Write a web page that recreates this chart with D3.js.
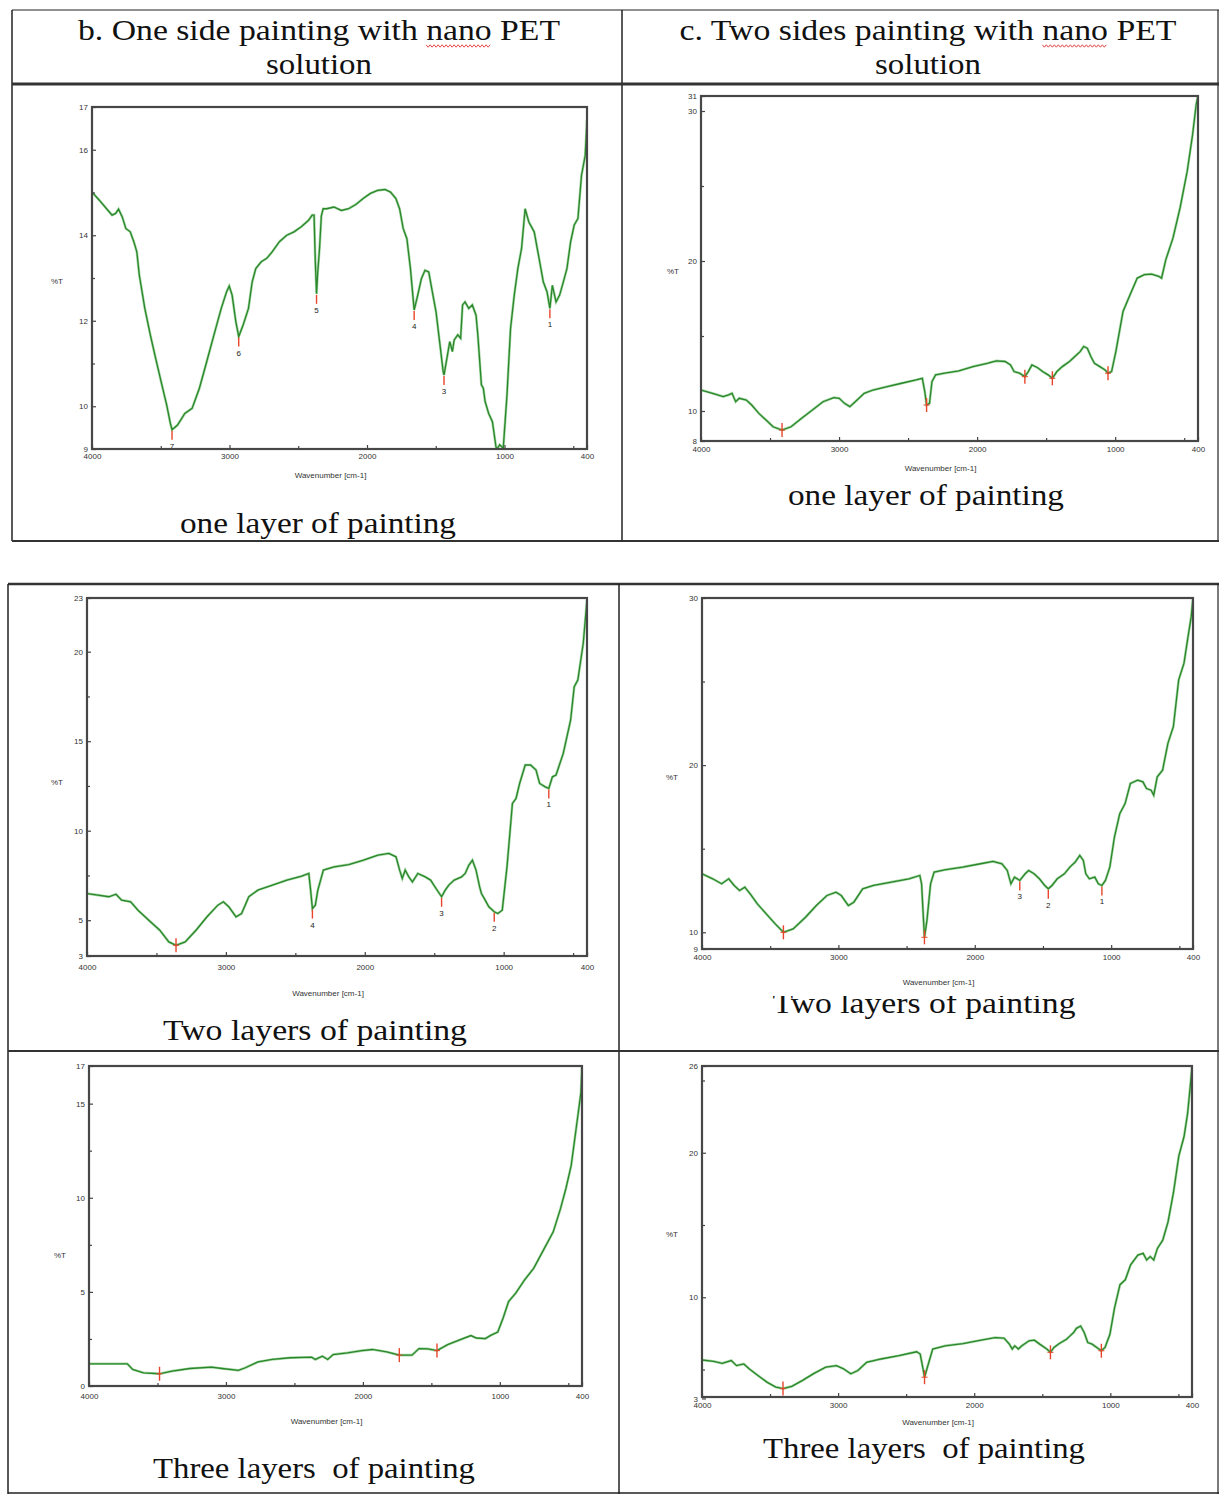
<!DOCTYPE html>
<html><head><meta charset="utf-8">
<script src="https://cdn.jsdelivr.net/npm/d3@7"></script>
<style>body{margin:0;background:#fff} svg{display:block}</style>
</head><body>
<svg id="fig" width="1219" height="1495"></svg>
<script>
// ---------------- DATA ----------------
const xMajorTicks = [4000, 3000, 2000, 1000, 400];
const xMinorTicks = [3500, 2500, 1500, 500];
const xTickLabels = ["4000", "3000", "2000", "1000", "400"];
const xAxisTitle = "Wavenumber [cm-1]";
const yAxisTitle = "%T";

const headerB = ["b. One side painting with nano PET", "solution"];
const headerC = ["c. Two sides painting with nano PET", "solution"];
const captions = ["one layer of painting", "one layer of painting",
                  "Two layers of painting", "Two layers of painting",
                  "Three layers  of painting", "Three layers  of painting"];

// b: one side, one layer
const b1Data = [[4000,15.01],[3947,14.82],[3894,14.62],[3854,14.47],[3828,14.51],[3807,14.61],[3780,14.43],[3754,14.16],[3722,14.08],[3696,13.85],[3674,13.61],[3656,13.07],[3616,12.29],[3576,11.67],[3537,11.12],[3497,10.57],[3457,10.03],[3430,9.6],[3418,9.45],[3378,9.56],[3325,9.83],[3272,9.95],[3219,10.42],[3166,11.04],[3113,11.67],[3060,12.29],[3021,12.68],[3002,12.81],[2981,12.60],[2954,11.98],[2933,11.63],[2901,11.90],[2862,12.29],[2835,12.91],[2809,13.22],[2769,13.38],[2729,13.46],[2690,13.61],[2637,13.85],[2584,14.00],[2531,14.08],[2478,14.20],[2425,14.35],[2399,14.47],[2385,14.47],[2376,13.4],[2367,12.63],[2359,13.1],[2345,13.7],[2332,14.45],[2319,14.62],[2293,14.62],[2240,14.66],[2187,14.58],[2134,14.62],[2081,14.72],[2028,14.86],[1975,14.98],[1922,15.05],[1869,15.07],[1829,15.01],[1790,14.86],[1763,14.62],[1737,14.16],[1710,13.92],[1684,13.22],[1657,12.25],[1631,12.60],[1604,12.99],[1578,13.18],[1551,13.14],[1525,12.68],[1498,12.21],[1472,11.51],[1446,10.81],[1440,10.73],[1419,11.12],[1398,11.51],[1379,11.28],[1366,11.55],[1340,11.67],[1319,11.59],[1305,12.37],[1287,12.44],[1260,12.29],[1234,12.37],[1207,12.13],[1194,11.67],[1168,10.50],[1154,10.42],[1141,10.11],[1115,9.83],[1088,9.64],[1062,9.05],[1054,9.0],[1035,9.10],[1009,9.02],[982,10.26],[956,11.82],[929,12.60],[903,13.22],[876,13.69],[850,14.62],[823,14.31],[784,14.08],[744,13.38],[718,12.91],[691,12.68],[670,12.29],[652,12.83],[625,12.44],[599,12.60],[572,12.91],[546,13.22],[519,13.85],[493,14.24],[466,14.39],[440,15.40],[413,15.87],[400,16.7]];
const b1Peaks = [[3418,"7"],[2933,"6"],[2367,"5"],[1657,"4"],[1440,"3"],[1054,"2"],[670,"1"]];
const b1YDomain = [9, 17];
const b1YTicks = [17, 16, 14, 12, 10, 9];
const b1YMinor = [15, 13, 11];

// c: two sides, one layer
const c1Data = [[4000,11.40],[3917,11.18],[3840,10.96],[3801,11.07],[3775,11.18],[3749,10.62],[3723,10.85],[3672,10.73],[3633,10.40],[3581,9.84],[3529,9.40],[3478,8.95],[3413,8.73],[3348,8.95],[3271,9.51],[3193,10.07],[3116,10.62],[3038,10.89],[2999,10.85],[2960,10.51],[2922,10.29],[2883,10.62],[2818,11.18],[2754,11.40],[2650,11.63],[2547,11.85],[2443,12.07],[2397,12.18],[2379,11.29],[2366,10.40],[2345,10.51],[2327,11.96],[2301,12.41],[2236,12.52],[2133,12.67],[2029,12.96],[1926,13.18],[1861,13.34],[1797,13.30],[1758,13.07],[1732,12.63],[1693,12.52],[1654,12.29],[1629,12.63],[1603,13.07],[1564,12.90],[1525,12.63],[1486,12.41],[1455,12.18],[1422,12.63],[1383,12.96],[1331,13.30],[1292,13.63],[1254,13.96],[1228,14.30],[1202,14.19],[1176,13.63],[1150,13.18],[1111,12.96],[1073,12.74],[1052,12.52],[1026,12.63],[995,13.96],[943,16.64],[892,17.75],[840,18.86],[788,19.09],[737,19.13],[685,18.98],[664,18.86],[633,20.09],[581,21.54],[530,23.54],[478,25.99],[439,28.44],[413,30.45],[400,31.0]];
const c1Peaks = [[3413,""],[2366,""],[1654,""],[1455,""],[1052,""]];
const c1YDomain = [8, 31];
const c1YTicks = [31, 30, 20, 10, 8];
const c1YMinor = [25, 15];

// b: one side, two layers
const b2Data = [[4000,6.49],[3921,6.40],[3843,6.31],[3791,6.45],[3751,6.12],[3686,6.03],[3633,5.56],[3555,5.0],[3476,4.44],[3411,3.79],[3359,3.60],[3293,3.79],[3215,4.44],[3136,5.19],[3058,5.84],[3018,6.03],[2979,5.75],[2927,5.19],[2887,5.37],[2835,6.31],[2770,6.68],[2665,6.96],[2560,7.24],[2455,7.46],[2403,7.61],[2390,6.68],[2377,5.65],[2356,5.84],[2338,6.68],[2298,7.80],[2220,7.98],[2115,8.11],[2010,8.35],[1906,8.63],[1827,8.73],[1775,8.54],[1749,7.80],[1730,7.33],[1709,7.80],[1683,7.42],[1657,7.14],[1618,7.61],[1565,7.42],[1526,7.24],[1487,6.77],[1447,6.31],[1421,6.68],[1395,6.96],[1356,7.24],[1303,7.42],[1277,7.61],[1251,8.07],[1225,8.35],[1199,7.80],[1173,6.86],[1160,6.49],[1133,6.12],[1107,5.75],[1068,5.47],[1042,5.37],[1010,5.56],[976,7.98],[937,11.52],[911,11.80],[885,12.64],[845,13.67],[806,13.67],[767,13.39],[741,12.64],[701,12.45],[675,12.36],[649,13.01],[623,13.11],[571,14.32],[518,16.18],[492,18.04],[466,18.42],[427,20.47],[400,22.9]];
const b2Peaks = [[3359,""],[2377,"4"],[1447,"3"],[1068,"2"],[675,"1"]];
const b2YDomain = [3, 23];
const b2YTicks = [23, 20, 15, 10, 5, 3];
const b2YMinor = [17.5, 12.5, 7.5];

// c: two sides, two layers
const c2Data = [[4000,13.5],[3921,13.2],[3856,12.9],[3804,13.2],[3764,12.8],[3725,12.5],[3686,12.7],[3647,12.3],[3594,11.7],[3529,11.1],[3463,10.5],[3403,10.0],[3332,10.2],[3241,10.9],[3162,11.6],[3084,12.2],[3018,12.4],[2979,12.2],[2927,11.6],[2887,11.8],[2822,12.6],[2743,12.8],[2612,13.0],[2482,13.2],[2403,13.4],[2390,12.9],[2377,10.9],[2369,9.7],[2351,10.7],[2324,12.9],[2298,13.6],[2220,13.74],[2089,13.9],[1958,14.1],[1866,14.24],[1801,14.1],[1762,13.7],[1735,12.9],[1709,13.3],[1670,13.1],[1631,13.5],[1605,13.7],[1565,13.5],[1526,13.2],[1487,12.8],[1461,12.6],[1434,12.8],[1395,13.2],[1343,13.5],[1303,13.9],[1264,14.2],[1230,14.6],[1204,14.3],[1186,13.5],[1160,13.2],[1120,13.3],[1094,12.9],[1068,12.8],[1042,13.1],[1010,13.9],[976,15.7],[937,17.1],[898,17.7],[859,18.9],[806,19.1],[767,19.0],[741,18.6],[707,18.5],[688,18.2],[662,19.3],[623,19.7],[584,21.3],[544,22.3],[505,25.1],[466,26.1],[440,27.5],[413,28.9],[400,30.0]];
const c2Peaks = [[3403,""],[2369,""],[1670,"3"],[1461,"2"],[1068,"1"]];
const c2YDomain = [9, 30];
const c2YTicks = [30, 20, 10, 9];
const c2YMinor = [25, 15];

// b: one side, three layers
const b3Data = [[4000,1.18],[3838,1.18],[3720,1.18],[3681,0.88],[3603,0.70],[3485,0.65],[3394,0.79],[3263,0.93],[3106,1.00],[3028,0.93],[2910,0.83],[2858,0.97],[2766,1.28],[2662,1.41],[2531,1.50],[2374,1.53],[2348,1.41],[2296,1.58],[2257,1.41],[2217,1.67],[2113,1.76],[2008,1.88],[1930,1.94],[1825,1.81],[1734,1.64],[1642,1.64],[1590,1.99],[1525,1.97],[1459,1.88],[1381,2.20],[1289,2.46],[1211,2.68],[1172,2.55],[1106,2.52],[1067,2.69],[1015,2.87],[976,3.61],[936,4.49],[884,4.93],[819,5.64],[753,6.25],[675,7.31],[610,8.19],[557,9.42],[518,10.48],[479,11.71],[453,13.12],[427,14.53],[408,15.59],[400,17.0]];
const b3Peaks = [[3485,""],[1734,""],[1459,""]];
const b3YDomain = [0, 17];
const b3YTicks = [17, 15, 10, 5, 0];
const b3YMinor = [12.5, 7.5, 2.5];

// c: two sides, three layers
const c3Data = [[4000,5.66],[3916,5.57],[3851,5.43],[3785,5.62],[3746,5.27],[3693,5.39],[3654,5.05],[3589,4.59],[3523,4.13],[3458,3.79],[3405,3.68],[3340,3.84],[3261,4.25],[3183,4.70],[3091,5.16],[3012,5.27],[2960,5.05],[2907,4.70],[2855,4.93],[2790,5.50],[2685,5.73],[2554,5.96],[2423,6.23],[2397,6.07],[2376,5.05],[2365,4.47],[2344,5.16],[2305,6.42],[2213,6.64],[2082,6.80],[1951,7.03],[1846,7.21],[1781,7.17],[1742,6.76],[1721,6.42],[1702,6.64],[1676,6.42],[1650,6.64],[1597,6.99],[1558,7.03],[1519,6.76],[1467,6.42],[1440,6.19],[1414,6.53],[1375,6.80],[1322,7.10],[1296,7.33],[1270,7.56],[1249,7.85],[1218,8.01],[1192,7.56],[1166,6.87],[1134,6.76],[1100,6.53],[1066,6.30],[1039,6.53],[1003,7.44],[969,9.27],[929,10.87],[890,11.21],[851,12.24],[798,12.92],[759,13.04],[733,12.58],[707,12.81],[681,12.58],[654,13.38],[615,13.95],[576,15.21],[536,17.26],[497,19.77],[458,21.14],[432,22.74],[411,24.79],[400,25.94]];
const c3Peaks = [[3405,""],[2365,""],[1440,""],[1066,""]];
const c3YDomain = [3.1, 26];
const c3YTicks = [26, 20, 10, 3];
const c3YMinor = [25, 15, 5];

// ---------------- LAYOUT ----------------
const panels = [
  {data:b1Data, peaks:b1Peaks, yd:b1YDomain, yt:b1YTicks, ym:b1YMinor,
   box:{l:92,r:587,t:107,b:449}, xtOff:4, xlOff:29, ylab:[57,284], cap:0},
  {data:c1Data, peaks:c1Peaks, yd:c1YDomain, yt:c1YTicks, ym:c1YMinor,
   box:{l:701,r:1198,t:96,b:441}, xtOff:5, xlOff:30, ylab:[673,274], cap:1},
  {data:b2Data, peaks:b2Peaks, yd:b2YDomain, yt:b2YTicks, ym:b2YMinor,
   box:{l:87,r:587,t:598,b:956}, xtOff:8, xlOff:40, ylab:[57,785], cap:2},
  {data:c2Data, peaks:c2Peaks, yd:c2YDomain, yt:c2YTicks, ym:c2YMinor,
   box:{l:702,r:1193,t:598,b:949}, xtOff:5, xlOff:36, ylab:[672,780], cap:3},
  {data:b3Data, peaks:b3Peaks, yd:b3YDomain, yt:b3YTicks, ym:b3YMinor,
   box:{l:89,r:582,t:1066,b:1386}, xtOff:7, xlOff:38, ylab:[60,1258], cap:4},
  {data:c3Data, peaks:c3Peaks, yd:c3YDomain, yt:c3YTicks, ym:c3YMinor,
   box:{l:702,r:1192,t:1066,b:1397}, xtOff:5, xlOff:28, ylab:[672,1237], cap:5}
];
const captionLayout = [
  {x:318, y:533, w:276}, {x:926, y:505, w:276},
  {x:315, y:1040, w:304}, {x:924, y:1013, w:303},
  {x:314, y:1478, w:322}, {x:924, y:1458, w:322}
];

const svg = d3.select("#fig");
const defs = svg.append("defs");
const serif = "'Liberation Serif','Times New Roman',serif";
const sans = "'Liberation Sans',Arial,sans-serif";

// ---------------- TABLE ----------------
const tbl = svg.append("g").attr("stroke", "#222").attr("fill", "none");
const seg = (x1,y1,x2,y2,w,c) => tbl.append("line").attr("x1",x1).attr("y1",y1).attr("x2",x2).attr("y2",y2)
  .attr("stroke-width", w).attr("stroke", c || "#222");
seg(12, 10, 1219, 10, 1.2);
seg(12, 10, 12, 541, 1.5);
seg(622, 10, 622, 541, 1.5);
seg(1218, 10, 1218, 541, 1.2);
seg(12, 84, 1219, 84, 3, "#333");
seg(12, 541, 1219, 541, 2.2, "#333");
seg(8, 584, 1219, 584, 2.5, "#333");
seg(8, 584, 8, 1494, 1.5);
seg(619, 584, 619, 1494, 1.5);
seg(1218, 584, 1218, 1494, 1.2);
seg(8, 1051, 1219, 1051, 2.2, "#333");
seg(8, 1493, 1219, 1493, 1.5);

// ---------------- HEADERS ----------------
function headerText(lines, cx, w1, w2) {
  const t1 = svg.append("text").attr("x", cx).attr("y", 40).attr("text-anchor", "middle")
    .attr("font-family", serif).attr("font-size", 30).attr("fill", "#111")
    .attr("textLength", w1).attr("lengthAdjust", "spacingAndGlyphs").text(lines[0]);
  svg.append("text").attr("x", cx).attr("y", 74).attr("text-anchor", "middle")
    .attr("font-family", serif).attr("font-size", 30).attr("fill", "#111")
    .attr("textLength", w2).attr("lengthAdjust", "spacingAndGlyphs").text(lines[1]);
  // red wavy spell-check underline under "nano"
  const idx = lines[0].indexOf("nano");
  let x0, x1;
  try {
    x0 = t1.node().getStartPositionOfChar(idx).x;
    x1 = t1.node().getEndPositionOfChar(idx + 3).x;
  } catch (e) { x0 = cx + 110; x1 = cx + 172; }
  const pts = [];
  for (let x = x0, k = 0; x <= x1; x += 2, k++) pts.push([x, 46 + (k % 2 ? 1.2 : -1.2)]);
  svg.append("path").attr("d", d3.line()(pts)).attr("fill", "none")
    .attr("stroke", "#e03030").attr("stroke-width", 0.9);
}
headerText(headerB, 319, 482, 106);
headerText(headerC, 928, 497, 106);

// ---------------- CAPTIONS ----------------
defs.append("clipPath").attr("id", "capclip3").append("rect")
  .attr("x", 700).attr("y", 996).attr("width", 460).attr("height", 40);
captions.forEach((c, i) => {
  const L = captionLayout[i];
  const t = svg.append("text").attr("x", L.x).attr("y", L.y).attr("text-anchor", "middle")
    .attr("font-family", serif).attr("font-size", 30).attr("fill", "#111")
    .attr("textLength", L.w).attr("lengthAdjust", "spacingAndGlyphs")
    .style("white-space", "pre").text(c);
  if (i === 3) t.attr("clip-path", "url(#capclip3)");
});

// ---------------- PANELS ----------------
panels.forEach((p, i) => {
  const B = p.box;
  const x = d3.scaleLinear().domain([4000, 400]).range([B.l, B.r]);
  const y = d3.scaleLinear().domain(p.yd).range([B.b, B.t]);
  const g = svg.append("g");

  defs.append("clipPath").attr("id", "pc" + i).append("rect")
    .attr("x", B.l).attr("y", B.t).attr("width", B.r - B.l).attr("height", B.b - B.t);

  // spectrum line
  g.append("path").datum(p.data)
    .attr("clip-path", "url(#pc" + i + ")")
    .attr("fill", "none").attr("stroke", "#5fb85f").attr("stroke-width", 2.6).attr("stroke-opacity", 0.55)
    .attr("d", d3.line().x(d => x(d[0])).y(d => y(d[1])));
  g.append("path").datum(p.data)
    .attr("clip-path", "url(#pc" + i + ")")
    .attr("fill", "none").attr("stroke", "#2a862a").attr("stroke-width", 1.3)
    .attr("d", d3.line().x(d => x(d[0])).y(d => y(d[1])));

  // peak marks
  const mg = g.append("g").attr("clip-path", "url(#pc" + i + ")");
  p.peaks.forEach(pk => {
    const pt = p.data.reduce((a, d) => Math.abs(d[0] - pk[0]) < Math.abs(a[0] - pk[0]) ? d : a);
    const px = x(pt[0]), py = y(pt[1]);
    if (pk[1] !== "") {
      mg.append("line").attr("x1", px).attr("x2", px).attr("y1", py + 1).attr("y2", py + 10)
        .attr("stroke", "#e8452c").attr("stroke-width", 1.4);
      mg.append("text").attr("x", px).attr("y", py + 19).attr("text-anchor", "middle")
        .attr("font-family", sans).attr("font-size", 8).attr("fill", "#222").text(pk[1]);
    } else {
      mg.append("line").attr("x1", px).attr("x2", px).attr("y1", py - 7).attr("y2", py + 7)
        .attr("stroke", "#e8452c").attr("stroke-width", 1.4);
      mg.append("line").attr("x1", px - 3).attr("x2", px + 3).attr("y1", py).attr("y2", py)
        .attr("stroke", "#e8452c").attr("stroke-width", 1);
    }
  });

  // frame
  g.append("rect").attr("x", B.l).attr("y", B.t).attr("width", B.r - B.l).attr("height", B.b - B.t)
    .attr("fill", "none").attr("stroke", "#474747").attr("stroke-width", 2.2);

  const styleAxis = sel => {
    sel.select(".domain").remove();
    sel.selectAll("line").attr("stroke", "#444").attr("stroke-width", 1.2);
    sel.selectAll("text").attr("font-family", sans).attr("font-size", 8).attr("fill", "#333");
  };
  // x axis
  g.append("g").attr("transform", `translate(0,${B.b})`)
    .call(d3.axisBottom(x).tickValues(xMajorTicks).tickSize(-4).tickPadding(p.xtOff)
      .tickFormat((d, k) => xTickLabels[k]))
    .call(styleAxis);
  g.append("g").attr("transform", `translate(0,${B.b})`)
    .call(d3.axisBottom(x).tickValues(xMinorTicks).tickSize(-3).tickFormat(""))
    .call(styleAxis);
  // y axis
  g.append("g").attr("transform", `translate(${B.l},0)`)
    .call(d3.axisLeft(y).tickValues(p.yt).tickSize(-4).tickPadding(4).tickFormat(d3.format("d")))
    .call(styleAxis);
  g.append("g").attr("transform", `translate(${B.l},0)`)
    .call(d3.axisLeft(y).tickValues(p.ym).tickSize(-3).tickFormat(""))
    .call(styleAxis);

  // titles
  g.append("text").attr("x", (B.l + B.r) / 2 - 9).attr("y", B.b + p.xlOff).attr("text-anchor", "middle")
    .attr("font-family", sans).attr("font-size", 8).attr("fill", "#333").text(xAxisTitle);
  g.append("text").attr("x", p.ylab[0]).attr("y", p.ylab[1]).attr("text-anchor", "middle")
    .attr("font-family", sans).attr("font-size", 8).attr("fill", "#333").text(yAxisTitle);
});
</script>
</body></html>
